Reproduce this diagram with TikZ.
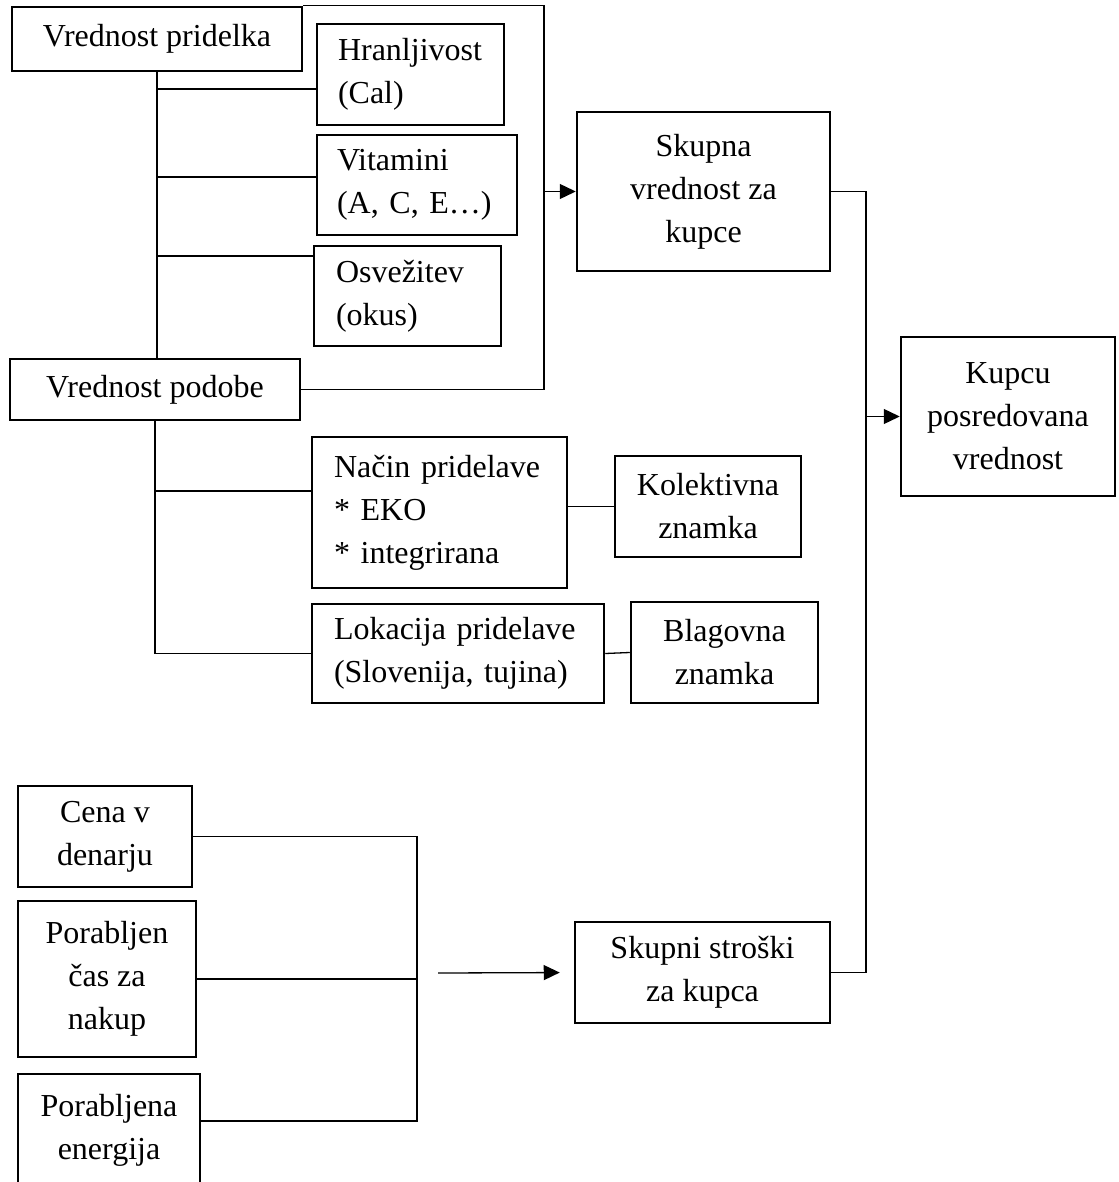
\documentclass[tikz,border=0pt]{standalone}
\usepackage{fontspec}
\setmainfont{Liberation Serif}
\usepackage{tikz}
\usetikzlibrary{arrows.meta,calc}
\tikzset{
  okvir/.style={rectangle, draw=black, line width=1.25pt, inner sep=0pt, align=center,
    font=\fontsize{16pt}{21.5pt}\selectfont},
  okvirl/.style={okvir, align=left},
  crta/.style={line width=0.65pt, draw=black},
  puscica/.style={-{Triangle[length=8pt,width=7.5pt]}, line width=0.65pt, draw=black},
}
\begin{document}
\begin{tikzpicture}[x=0.5pt, y=-0.5pt]
  \useasboundingbox (0,0) rectangle (1118,1182);
  \node[okvir, minimum width=145pt, minimum height=32pt] (pridelek) at (157,39) {Vrednost pridelka};
  \node[okvirl, text width=72.5pt, minimum width=93.5pt, minimum height=50.5pt] (hranljivost) at (410.5,74.5) {Hranljivost\\(Cal)};
  \node[okvirl, text width=80pt, minimum width=100pt, minimum height=50pt] (vitamini) at (417,185) {Vitamini\\(A, C, E…)};
  \node[okvirl, text width=71.5pt, minimum width=93.5pt, minimum height=50pt] (osvezitev) at (407.5,296) {Osvežitev\\(okus)};
  \node[okvir, minimum width=145pt, minimum height=30.5pt] (podoba) at (155,389.5) {Vrednost podobe};
  \node[okvir, minimum width=126.5pt, minimum height=79.5pt] (skupna) at (703.5,191.5) {Skupna\\vrednost za\\kupce};
  \node[okvir, minimum width=107pt, minimum height=79.5pt] (kupcu) at (1008,416.5) {Kupcu\\posredovana\\vrednost};
  \node[okvirl, text width=105.5pt, minimum width=127.5pt, minimum height=75.5pt] (nacin) at (439.5,512.5) {Način pridelave\\{*} EKO\\{*} integrirana};
  \node[okvir, minimum width=93pt, minimum height=50.5pt] (kolektivna) at (708,506.5) {Kolektivna\\znamka};
  \node[okvirl, text width=124pt, minimum width=146pt, minimum height=49.5pt] (lokacija) at (458,653.5) {Lokacija pridelave\\(Slovenija, tujina)};
  \node[okvir, minimum width=93.5pt, minimum height=50.5pt] (blagovna) at (724.5,652.5) {Blagovna\\znamka};
  \node[okvir, minimum width=87pt, minimum height=50.5pt] (cena) at (105,836.5) {Cena v\\denarju};
  \node[okvir, minimum width=89pt, minimum height=78pt] (cas) at (107,979) {Porabljen\\čas za\\nakup};
  \node[okvir, minimum width=91pt, minimum height=56pt] (energija) at (109,1130) {Porabljena\\energija};
  \node[okvir, minimum width=127.5pt, minimum height=50.5pt] (stroski) at (702.5,972.5) {Skupni stroški\\za kupca};
  \coordinate (zbir1) at (544,191.5);
  \coordinate (zbir2) at (866,416.5);
  \coordinate (zbir3) at (417,973);
  \coordinate (zacetek) at (438,973);
  \draw[crta] (pridelek.south) -- (pridelek.south |- podoba.north);
  \draw[crta] ([yshift=-7.25pt]hranljivost.west) -- ([yshift=-7.25pt]hranljivost.west -| pridelek.south);
  \draw[crta] ([yshift=4pt]vitamini.west) -- ([yshift=4pt]vitamini.west -| pridelek.south);
  \draw[crta] ([yshift=20pt]osvezitev.west) -- ([yshift=20pt]osvezitev.west -| pridelek.south);
  \draw[crta] (pridelek.north east) -| (zbir1) |- (podoba.east);
  \draw[puscica] (zbir1) -- (skupna.west);
  \draw[crta] (skupna.east) -| (zbir2) |- (stroski.east);
  \draw[puscica] (zbir2) -- (kupcu.west);
  \draw[crta] (podoba.south) |- (lokacija.west);
  \draw[crta] ([yshift=10.75pt]nacin.west) -- ([yshift=10.75pt]nacin.west -| podoba.south);
  \draw[crta] (kolektivna.west) -- (kolektivna.west -| nacin.east);
  \draw[crta] (lokacija.east) -- (blagovna.west);
  \draw[crta] (cena.east) -| (zbir3);
  \draw[crta] ([yshift=4.5pt]energija.east) -| (zbir3);
  \draw[crta] (cas.east) -- (cas.east -| zbir3);
  \draw[puscica, shorten >=7pt] (zacetek) -- (stroski.west);
\end{tikzpicture}
\end{document}
